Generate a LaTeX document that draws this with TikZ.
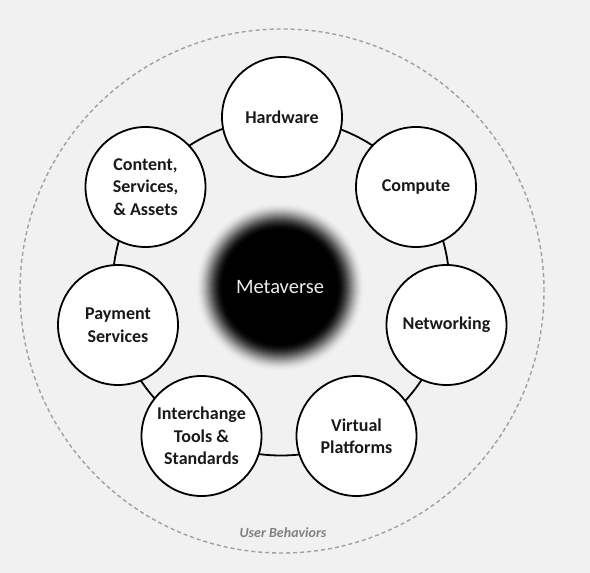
\documentclass[tikz,border=0pt]{standalone}
\usepackage{fontspec}
\setmainfont{Carlito}
\definecolor{bg}{HTML}{F1F1F1}
\definecolor{dashgray}{HTML}{A0A0A0}
\definecolor{labelgray}{HTML}{808080}
\begin{document}
\begin{tikzpicture}[x=1pt,y=-1pt,
  item/.style={circle, draw=black, line width=1.8pt, fill=white, minimum size=120pt, inner sep=0pt, align=center, font=\bfseries\fontsize{18}{22.5}\selectfont, text=black!90},
  ringstyle/.style={circle, draw=black, line width=1.8pt, minimum size=337pt, inner sep=0pt},
  outer/.style={circle, draw=dashgray, line width=1.4pt, dash pattern=on 4pt off 3pt, minimum size=524pt, inner sep=0pt}]
\useasboundingbox (0,0) rectangle (590,573);
\fill[bg] (0,0) rectangle (590,573);
\node[outer] (behav) at (282,291) {};
\node[ringstyle] (ring) at (281,287) {};
\coordinate (mc) at (280,287);
\foreach \i in {0,...,28} {
  \pgfmathsetmacro\rr{85-\i}
  \pgfmathsetmacro\t{\i/28}
  \pgfmathsetmacro\p{100*\t*\t*(3-2*\t)}
  \fill[black!\p!bg] (mc) circle[radius=\rr pt];
}
\node[circle, minimum size=140pt, inner sep=0pt, text=white!92!black, font=\fontsize{20.5}{24}\selectfont] (meta) at (mc) {Metaverse};
\node[item] (hw) at (282,117) {Hardware};
\node[item] (cp) at (416,187) {Compute};
\node[item] (nw) at (446.5,325) {Networking};
\node[item] (vp) at (356.5,436) {Virtual\\Platforms};
\node[item] (it) at (201.5,436) {Interchange\\Tools \&\\Standards};
\node[item] (ps) at (118,325) {Payment\\Services};
\node[item] (cs) at (145.5,187) {Content,\\Services,\\\& Assets};
\node[font=\bfseries\itshape\fontsize{14}{16}\selectfont, text=labelgray] (ub) at (283,533) {User Behaviors};
\end{tikzpicture}
\end{document}
